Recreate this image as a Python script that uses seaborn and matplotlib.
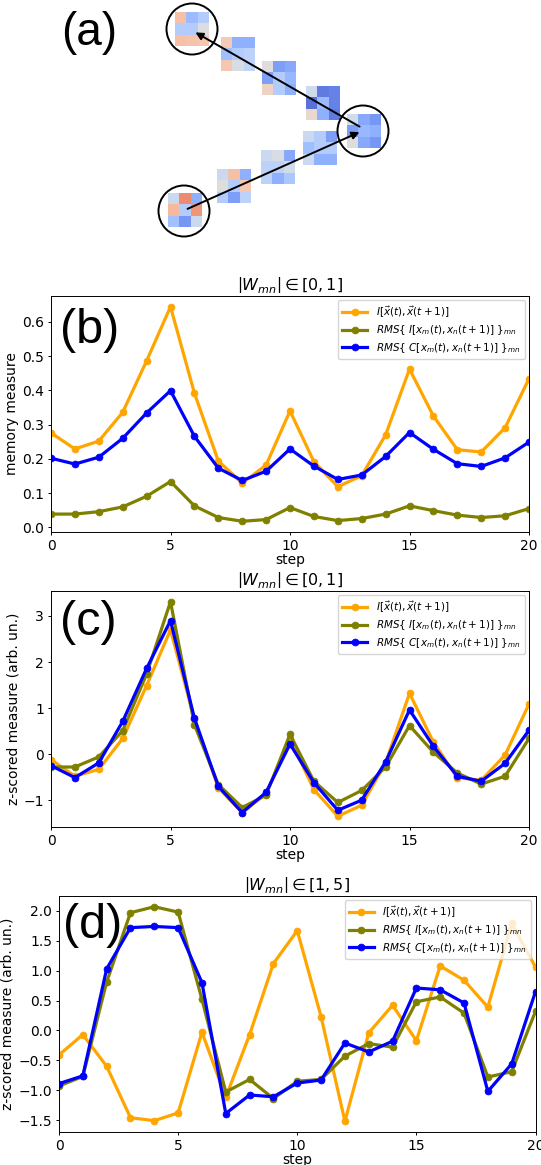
import numpy as np
import matplotlib
matplotlib.use("Agg")
import matplotlib.pyplot as plt
from matplotlib.patches import Circle
import seaborn as sns

# ---------------- data ----------------
steps = list(range(21))

b_info = [0.276, 0.229, 0.252, 0.336, 0.486, 0.644, 0.392, 0.194, 0.129, 0.182, 0.340,
          0.192, 0.119, 0.151, 0.270, 0.462, 0.325, 0.227, 0.220, 0.291, 0.434]
b_rms_i = [0.039, 0.039, 0.046, 0.060, 0.091, 0.134, 0.063, 0.029, 0.018, 0.023, 0.058,
           0.032, 0.020, 0.026, 0.039, 0.063, 0.049, 0.036, 0.029, 0.034, 0.055]
b_rms_c = [0.202, 0.185, 0.205, 0.260, 0.334, 0.399, 0.266, 0.173, 0.137, 0.164, 0.229,
           0.179, 0.140, 0.153, 0.207, 0.277, 0.228, 0.186, 0.178, 0.203, 0.249]

c_info = [-0.12, -0.48, -0.33, 0.34, 1.49, 2.70, 0.76, -0.73, -1.27, -0.86, 0.33,
          -0.77, -1.35, -1.11, -0.19, 1.32, 0.26, -0.51, -0.57, -0.02, 1.09]
c_rms_i = [-0.28, -0.28, -0.06, 0.51, 1.74, 3.31, 0.64, -0.66, -1.16, -0.89, 0.43,
           -0.59, -1.05, -0.79, -0.28, 0.62, 0.04, -0.41, -0.65, -0.48, 0.34]
c_rms_c = [-0.25, -0.51, -0.19, 0.71, 1.86, 2.90, 0.78, -0.70, -1.27, -0.83, 0.22,
           -0.62, -1.22, -1.00, -0.17, 0.96, 0.17, -0.48, -0.59, -0.20, 0.52]

d_info = [-0.41, -0.07, -0.60, -1.46, -1.51, -1.38, -0.03, -1.12, -0.07, 1.12, 1.67,
          0.23, -1.52, -0.04, 0.42, -0.17, 1.08, 0.84, 0.39, 1.79, 1.06]
d_rms_i = [-0.93, -0.77, 0.81, 1.97, 2.07, 1.98, 0.52, -1.03, -0.82, -1.14, -0.85,
           -0.82, -0.43, -0.22, -0.28, 0.48, 0.56, 0.29, -0.78, -0.69, 0.32]
d_rms_c = [-0.89, -0.76, 1.03, 1.72, 1.74, 1.72, 0.80, -1.39, -1.08, -1.11, -0.88,
           -0.83, -0.21, -0.36, -0.18, 0.71, 0.68, 0.46, -1.02, -0.56, 0.65]

labels = [r'$I[\vec{x}(t),\vec{x}(t+1)]$',
          r'$RMS\{\ I[x_m(t),x_n(t+1)]\ \}_{mn}$',
          r'$RMS\{\ C[x_m(t),x_n(t+1)]\ \}_{mn}$']
colors = ['orange', 'olive', 'blue']
xticks = [0, 5, 10, 15, 20]

# weight matrices for panel (a)
m1 = [[0.30, -0.45, -0.30], [-0.30, -0.30, 0.00], [0.30, 0.28, 0.25]]
m2 = [[0.22, -0.52, -0.52], [-0.42, -0.30, -0.25], [0.25, -0.05, -0.22]]
m3 = [[0.02, -0.62, -0.57], [-0.62, -0.30, -0.47], [0.15, -0.30, -0.52]]
m4 = [[-0.12, -0.82, -0.78], [-0.87, -0.45, -0.78], [0.10, -0.52, -0.82]]
m5 = [[-0.10, -0.57, -0.67], [-0.62, -0.47, -0.52], [0.00, -0.57, -0.67]]
m6 = [[-0.15, -0.30, -0.62], [-0.42, -0.30, -0.30], [-0.15, -0.52, -0.52]]
m7 = [[-0.15, -0.05, -0.57], [-0.25, -0.25, -0.10], [-0.25, -0.52, -0.35]]
m8 = [[-0.15, 0.30, -0.52], [0.00, -0.30, 0.25], [-0.30, -0.62, -0.25]]
m9 = [[-0.15, 0.60, -0.52], [0.35, -0.30, 0.55], [-0.40, -0.67, -0.15]]
matrices = [m1, m2, m3, m4, m5, m6, m7, m8, m9]

# ---------------- layout ----------------
W, H = 541, 1165
fig = plt.figure(figsize=(W / 100, H / 100), dpi=100)


def px_axes(l, t, r, b, **kw):
    return fig.add_axes([l / W, 1 - b / H, (r - l) / W, (b - t) / H], **kw)


# panel (a): small heatmaps
mat_pos = [(175, 12), (221, 37), (262, 61), (306, 86), (347, 114),
           (303, 131), (261, 150), (217, 169), (168, 193)]
size = 34
for m, (x0, y0) in zip(matrices, mat_pos):
    hax = px_axes(x0, y0, x0 + size, y0 + size)
    sns.heatmap(np.array(m), ax=hax, cmap='coolwarm', vmin=-1, vmax=1,
                cbar=False, xticklabels=False, yticklabels=False, alpha=0.95)
    hax.tick_params(left=False, bottom=False)
    hax.set_xlabel('')
    hax.set_ylabel('')

axa = px_axes(0, 0, W, 250)
axa.set_xlim(0, W)
axa.set_ylim(250, 0)
axa.patch.set_alpha(0)
axa.axis('off')
for (cx, cy) in [(192, 29), (363, 131), (184, 211)]:
    axa.add_patch(Circle((cx, cy), 25.5, fill=False, lw=1.4, ec='black'))
axa.annotate('', xy=(193, 31), xytext=(362, 128),
             arrowprops=dict(arrowstyle='-|>', lw=1.4, color='black', mutation_scale=11))
axa.annotate('', xy=(362, 131), xytext=(185, 210),
             arrowprops=dict(arrowstyle='-|>', lw=1.4, color='black', mutation_scale=11))


def ptext(x, y, s, size):
    fig.text(x / W, 1 - y / H, s, fontsize=size, family='Liberation Sans',
             ha='left', va='baseline')


ptext(61, 45, '(a)', 33)

panels = [
    ((51, 296, 529, 532), [b_info, b_rms_i, b_rms_c], 'memory measure',
     r'$\left|W_{mn}\right| \in [0,1]$', '(b)', (60, 343)),
    ((51, 591, 529, 827), [c_info, c_rms_i, c_rms_c], 'z-scored measure (arb. un.)',
     r'$\left|W_{mn}\right| \in [0,1]$', '(c)', (60, 635)),
    ((59, 896, 535.5, 1132), [d_info, d_rms_i, d_rms_c], 'z-scored measure (arb. un.)',
     r'$\left|W_{mn}\right| \in [1,5]$', '(d)', (63, 938)),
]

for (box, series, ylab, title, tag, tpos) in panels:
    ax = px_axes(*box)
    for vals, col, lab in zip(series, colors, labels):
        sns.lineplot(x=steps, y=vals, ax=ax, color=col, marker='o', markersize=5,
                     linewidth=2.3, markeredgecolor=col, markeredgewidth=0.5, label=lab)
    ax.set_xlim(0, 20)
    ax.set_xticks(xticks)
    ax.tick_params(labelsize=10, length=2.5, pad=2.5, width=0.7)
    ax.set_xlabel('step', fontsize=10, labelpad=0)
    ax.set_ylabel(ylab, fontsize=10, labelpad=2.5)
    ax.set_title(title, fontsize=11.5, pad=4)
    ax.legend(loc='upper right', fontsize=7.5, handlelength=2.4, labelspacing=0.35,
              borderaxespad=0.4)
    for sp in ax.spines.values():
        sp.set_linewidth(0.7)
    ptext(tpos[0], tpos[1], tag, 35)

fig.savefig('out.png', dpi=100)
